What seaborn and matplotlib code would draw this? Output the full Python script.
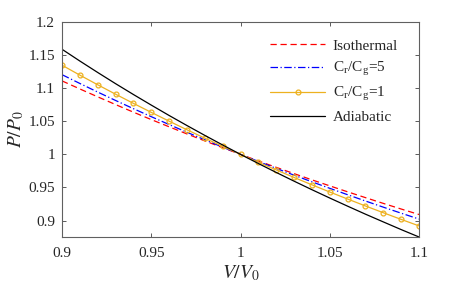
import seaborn as sns
import matplotlib.pyplot as plt
import pandas as pd

# Volume ratio samples
v_ratio = [0.90, 0.91, 0.92, 0.93, 0.94, 0.95, 0.96, 0.97, 0.98, 0.99, 1.00,
           1.01, 1.02, 1.03, 1.04, 1.05, 1.06, 1.07, 1.08, 1.09, 1.10]

# Pressure ratio
p_isothermal = [1.1111, 1.0989, 1.0870, 1.0753, 1.0638, 1.0526, 1.0417, 1.0309, 1.0204, 1.0101, 1.0,
                0.9901, 0.9804, 0.9709, 0.9615, 0.9524, 0.9434, 0.9346, 0.9259, 0.9174, 0.9091]
p_cr5 = [1.1205, 1.1072, 1.0942, 1.0815, 1.0691, 1.0570, 1.0451, 1.0334, 1.0221, 1.0109, 1.0,
         0.9893, 0.9788, 0.9686, 0.9585, 0.9487, 0.9390, 0.9295, 0.9202, 0.9111, 0.9022]
p_cr1 = [1.1348, 1.1198, 1.1052, 1.0910, 1.0771, 1.0635, 1.0502, 1.0372, 1.0245, 1.0121, 1.0,
         0.9881, 0.9765, 0.9651, 0.9540, 0.9431, 0.9325, 0.9220, 0.9118, 0.9017, 0.8919]
p_adiabatic = [1.1589, 1.1411, 1.1238, 1.1069, 1.0905, 1.0745, 1.0588, 1.0436, 1.0287, 1.0142, 1.0,
               0.9862, 0.9727, 0.9595, 0.9466, 0.9340, 0.9217, 0.9096, 0.8979, 0.8863, 0.8751]

x_ticks = [0.9, 0.95, 1.0, 1.05, 1.1]
x_tick_labels = ["0.9", "0.95", "1", "1.05", "1.1"]
y_ticks = [0.9, 0.95, 1.0, 1.05, 1.1, 1.15, 1.2]
y_tick_labels = ["0.9", "0.95", "1", "1.05", "1.1", "1.15", "1.2"]

df = pd.DataFrame({"V": v_ratio, "iso": p_isothermal, "cr5": p_cr5,
                   "cr1": p_cr1, "adi": p_adiabatic})

sns.set_style("ticks")
plt.rcParams["font.family"] = ["Liberation Serif", "DejaVu Serif"]
plt.rcParams["mathtext.fontset"] = "stix"

fig = plt.figure(figsize=(4.63, 2.87), dpi=100)
ax = fig.add_axes([0.134, 0.174, 0.771, 0.749])

sns.lineplot(data=df, x="V", y="iso", ax=ax, color="#FF0000", linewidth=0.9,
             linestyle=(0, (5, 3)), label="Isothermal")
sns.lineplot(data=df, x="V", y="cr5", ax=ax, color="#0000FF", linewidth=0.9,
             linestyle=(0, (6, 2, 1, 2)), label="C$_\\mathregular{r}$/C$_\\mathregular{g}$=5")
sns.lineplot(data=df, x="V", y="cr1", ax=ax, color="#EDB120", linewidth=0.9,
             marker="o", markersize=3.5, markerfacecolor="none", markeredgecolor="#EDB120",
             markeredgewidth=0.9, label="C$_\\mathregular{r}$/C$_\\mathregular{g}$=1")
sns.lineplot(data=df, x="V", y="adi", ax=ax, color="black", linewidth=0.9,
             label="Adiabatic")

ax.set_xlim(0.9, 1.1)
ax.set_ylim(0.875, 1.2)
ax.set_xticks(x_ticks)
ax.set_xticklabels(x_tick_labels)
ax.set_yticks(y_ticks)
ax.set_yticklabels(y_tick_labels)
ax.tick_params(direction="in", top=True, right=True, labelsize=11,
               length=3, width=0.6, color="#404040", labelcolor="#262626")
ax.tick_params(axis="x", pad=7)
ax.tick_params(axis="y", pad=5)
for s in ax.spines.values():
    s.set_color("#606060")
    s.set_linewidth(0.8)

ax.set_xlabel("$V/V_0$", fontsize=14, labelpad=2.5, color="#262626")
ax.set_ylabel("$P/P_0$", fontsize=14, labelpad=2, color="#262626")

ax.legend(loc="upper right", frameon=False, fontsize=11, handlelength=3.6,
          handletextpad=0.5, labelspacing=0.47, bbox_to_anchor=(0.98, 0.985))

plt.savefig("out.png", dpi=100)
